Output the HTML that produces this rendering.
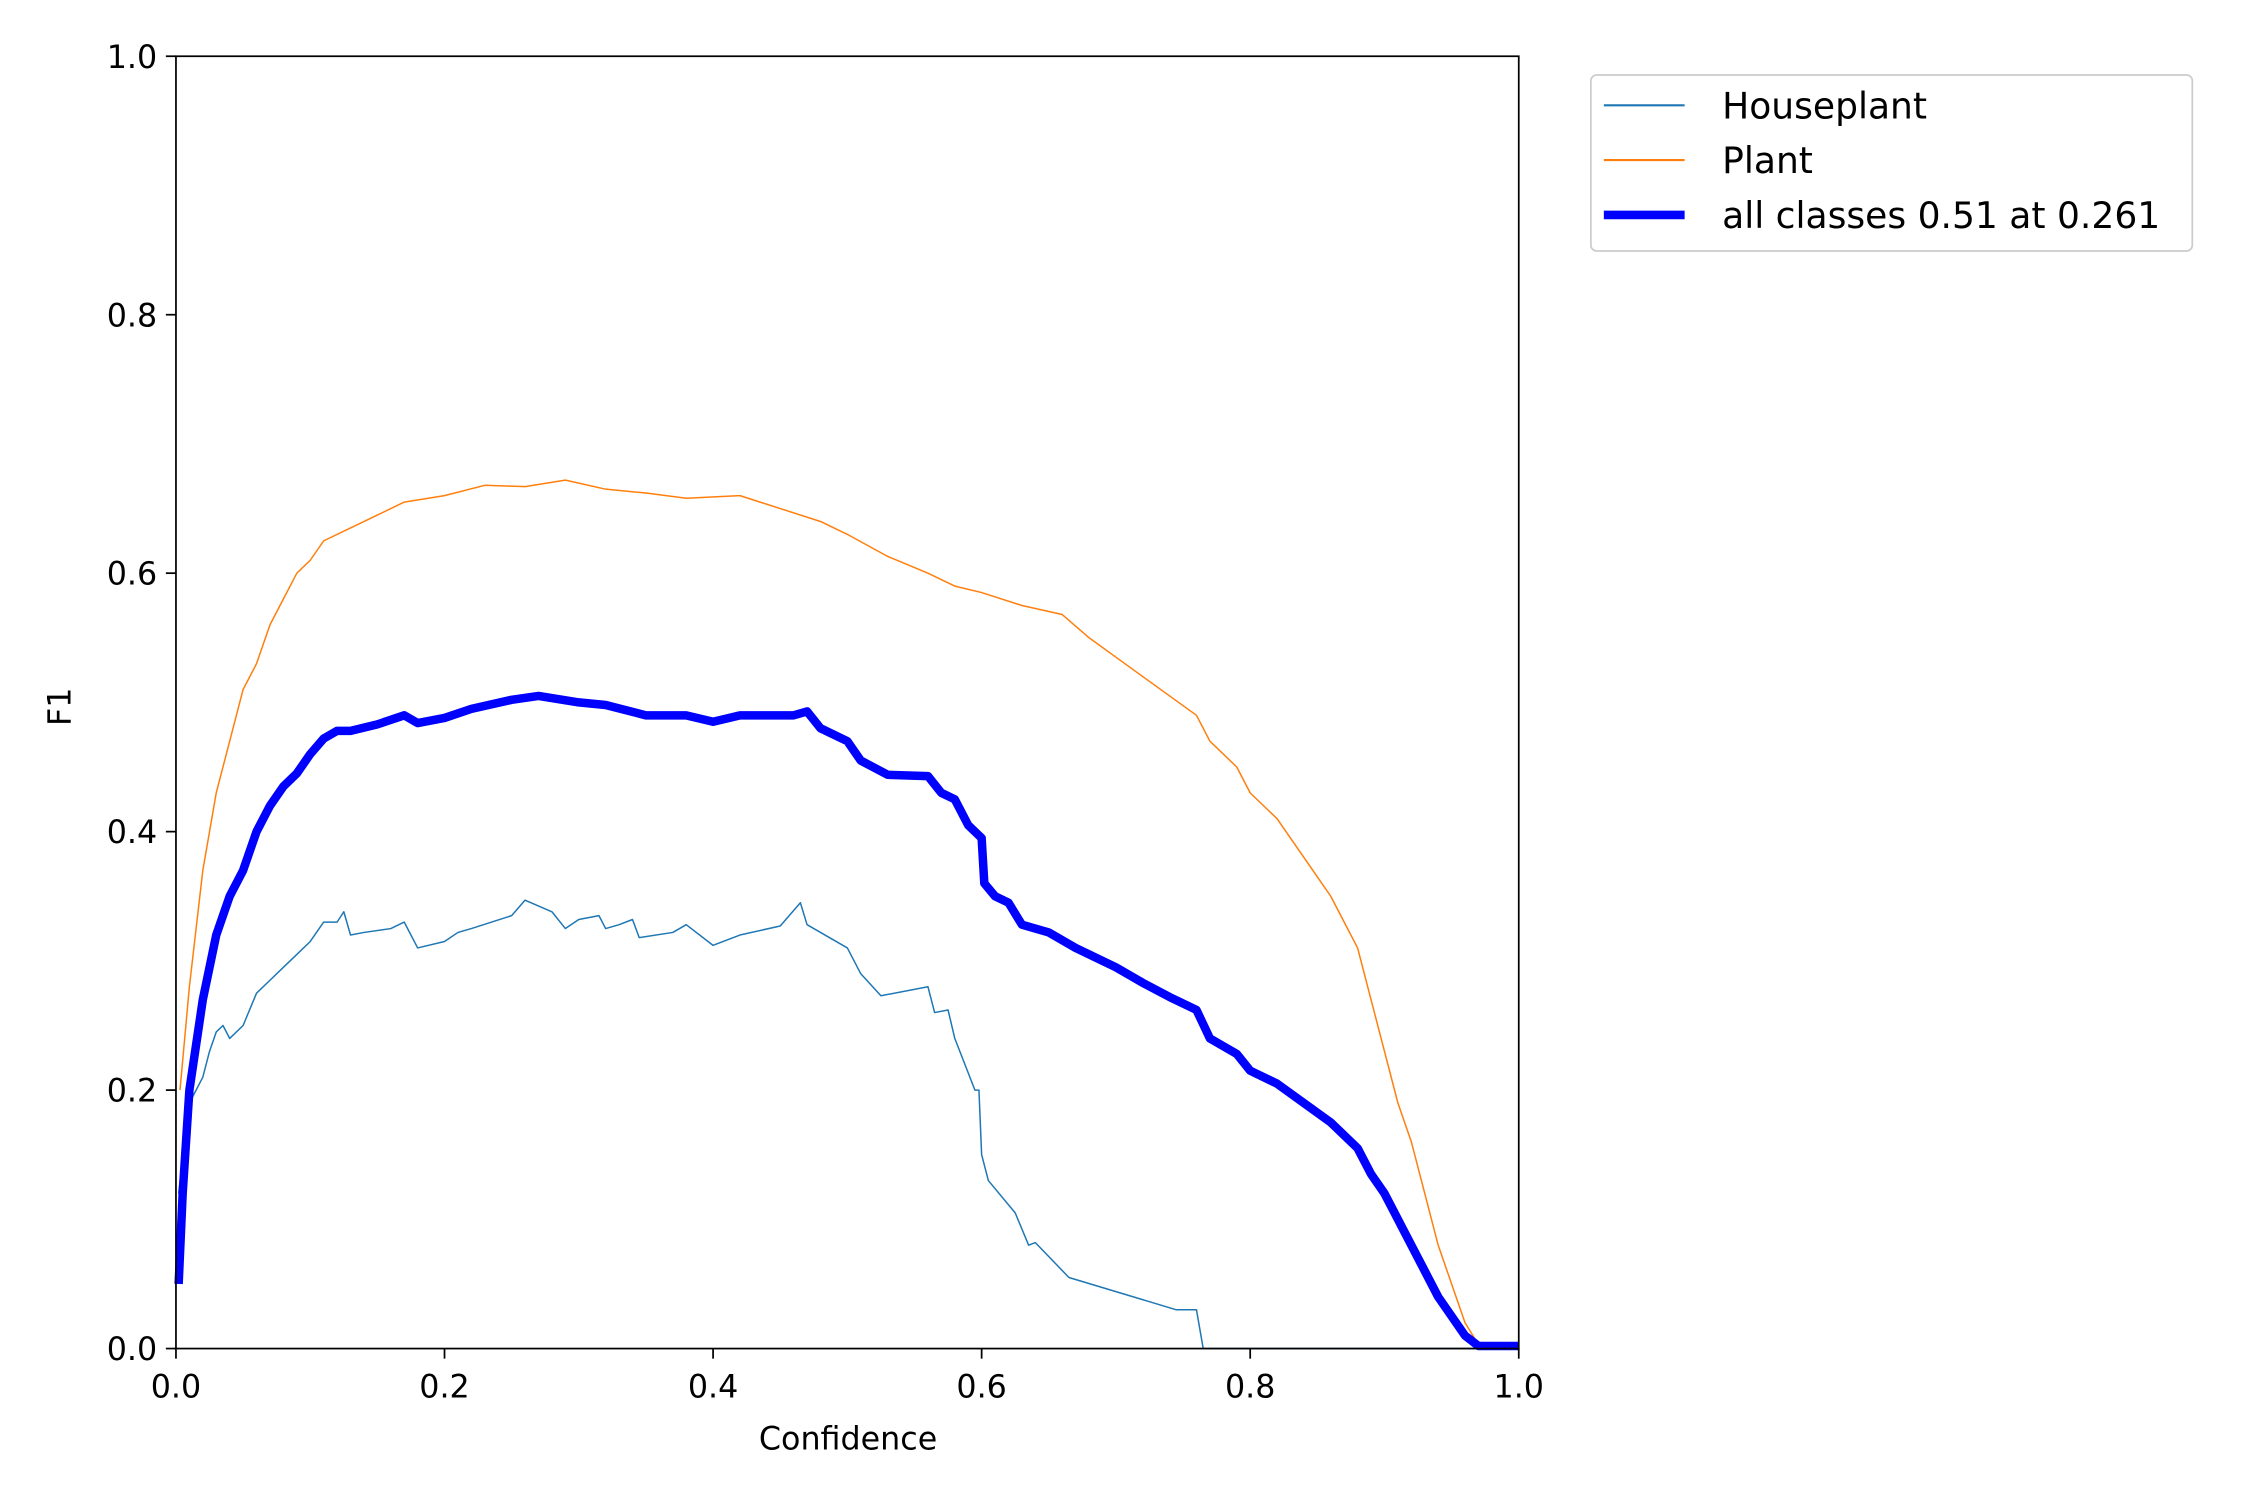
<!DOCTYPE html>
<html><head><meta charset="utf-8"><style>html,body{margin:0;padding:0;background:#fff}svg{display:block}text{font-family:"DejaVu Sans","Liberation Sans",sans-serif;fill:#000}</style></head>
<body>
<svg width="2250" height="1500" viewBox="0 0 1560 1040" preserveAspectRatio="none" xmlns="http://www.w3.org/2000/svg">
<rect width="1560" height="1040" fill="#fff"/>
<g transform="translate(122,935) scale(931,-896)" fill="none" stroke-linejoin="round">
<polyline vector-effect="non-scaling-stroke" stroke="#1f77b4" stroke-width="1.5" points="0.002,0.12 0.01,0.19 0.015,0.2 0.02,0.21 0.025,0.23 0.03,0.245 0.035,0.25 0.04,0.24 0.05,0.25 0.06,0.275 0.07,0.285 0.08,0.295 0.09,0.305 0.1,0.315 0.11,0.33 0.12,0.33 0.125,0.338 0.13,0.32 0.14,0.322 0.16,0.325 0.17,0.33 0.18,0.31 0.2,0.315 0.21,0.322 0.22,0.325 0.25,0.335 0.26,0.347 0.28,0.338 0.29,0.325 0.3,0.332 0.315,0.335 0.32,0.325 0.33,0.328 0.34,0.332 0.345,0.318 0.37,0.322 0.38,0.328 0.4,0.312 0.42,0.32 0.45,0.327 0.465,0.345 0.47,0.328 0.5,0.31 0.51,0.29 0.525,0.273 0.56,0.28 0.565,0.26 0.575,0.262 0.58,0.24 0.595,0.2 0.598,0.2 0.6,0.15 0.605,0.13 0.625,0.105 0.635,0.08 0.64,0.082 0.665,0.055 0.745,0.03 0.76,0.03 0.765,0 1,0"/>
<polyline vector-effect="non-scaling-stroke" stroke="#ff7f0e" stroke-width="1.5" points="0.003,0.2 0.01,0.28 0.02,0.37 0.03,0.43 0.04,0.47 0.05,0.51 0.06,0.53 0.07,0.56 0.08,0.58 0.09,0.6 0.1,0.61 0.11,0.625 0.13,0.635 0.15,0.645 0.17,0.655 0.2,0.66 0.23,0.668 0.26,0.667 0.29,0.672 0.32,0.665 0.35,0.662 0.38,0.658 0.42,0.66 0.45,0.65 0.48,0.64 0.5,0.63 0.53,0.613 0.56,0.6 0.58,0.59 0.6,0.585 0.63,0.575 0.66,0.568 0.68,0.55 0.7,0.535 0.72,0.52 0.74,0.505 0.76,0.49 0.77,0.47 0.79,0.45 0.8,0.43 0.82,0.41 0.84,0.38 0.86,0.35 0.87,0.33 0.88,0.31 0.89,0.27 0.9,0.23 0.91,0.19 0.92,0.16 0.93,0.12 0.94,0.08 0.95,0.05 0.96,0.02 0.97,0.003 1,0.002"/>
<polyline vector-effect="non-scaling-stroke" stroke="#0000ff" stroke-width="8.5" points="0.002,0.05 0.005,0.12 0.01,0.2 0.02,0.27 0.03,0.32 0.04,0.35 0.05,0.37 0.06,0.4 0.07,0.42 0.08,0.435 0.09,0.445 0.1,0.46 0.11,0.472 0.12,0.478 0.13,0.478 0.15,0.483 0.17,0.49 0.18,0.484 0.2,0.488 0.22,0.495 0.25,0.502 0.27,0.505 0.3,0.5 0.32,0.498 0.35,0.49 0.38,0.49 0.4,0.485 0.42,0.49 0.46,0.49 0.47,0.493 0.48,0.48 0.5,0.47 0.51,0.455 0.53,0.444 0.56,0.443 0.57,0.43 0.58,0.425 0.59,0.405 0.6,0.395 0.602,0.36 0.61,0.35 0.62,0.345 0.63,0.328 0.65,0.322 0.67,0.31 0.7,0.295 0.72,0.283 0.74,0.272 0.76,0.262 0.77,0.24 0.79,0.228 0.8,0.215 0.82,0.205 0.84,0.19 0.86,0.175 0.88,0.155 0.89,0.135 0.9,0.12 0.91,0.1 0.92,0.08 0.93,0.06 0.94,0.04 0.95,0.025 0.96,0.01 0.97,0.002 1,0.002"/>
</g>
<rect x="122" y="39" width="931" height="896" fill="none" stroke="#000" stroke-width="1.2"/>
<g stroke="#000" stroke-width="1.2">
<line x1="122" y1="935" x2="122" y2="942"/><line x1="308.2" y1="935" x2="308.2" y2="942"/><line x1="494.4" y1="935" x2="494.4" y2="942"/><line x1="680.6" y1="935" x2="680.6" y2="942"/><line x1="866.8" y1="935" x2="866.8" y2="942"/><line x1="1053" y1="935" x2="1053" y2="942"/>
<line x1="115" y1="935" x2="122" y2="935"/><line x1="115" y1="755.8" x2="122" y2="755.8"/><line x1="115" y1="576.6" x2="122" y2="576.6"/><line x1="115" y1="397.4" x2="122" y2="397.4"/><line x1="115" y1="218.2" x2="122" y2="218.2"/><line x1="115" y1="39" x2="122" y2="39"/>
</g>
<g font-size="22" text-anchor="middle">
<text x="122" y="969">0.0</text><text x="308.2" y="969">0.2</text><text x="494.4" y="969">0.4</text><text x="680.6" y="969">0.6</text><text x="866.8" y="969">0.8</text><text x="1053" y="969">1.0</text>
<text x="588" y="1005">Confidence</text>
</g>
<g font-size="22" text-anchor="end">
<text x="109" y="943">0.0</text><text x="109" y="763.8">0.2</text><text x="109" y="584.6">0.4</text><text x="109" y="405.4">0.6</text><text x="109" y="226.2">0.8</text><text x="109" y="47">1.0</text>
</g>
<text font-size="22" text-anchor="middle" transform="translate(49,490) rotate(-90)">F1</text>
<rect x="1103" y="52" width="417" height="122" rx="4" fill="#fff" stroke="#ccc" stroke-width="1.2"/>
<line x1="1112" y1="73" x2="1168" y2="73" stroke="#1f77b4" stroke-width="1.5"/>
<line x1="1112" y1="111" x2="1168" y2="111" stroke="#ff7f0e" stroke-width="1.5"/>
<line x1="1112" y1="149" x2="1168" y2="149" stroke="#0000ff" stroke-width="6"/>
<g font-size="25"><text x="1194" y="82">Houseplant</text><text x="1194" y="120">Plant</text><text x="1194" y="158">all classes 0.51 at 0.261</text></g>
</svg>
</body></html>
